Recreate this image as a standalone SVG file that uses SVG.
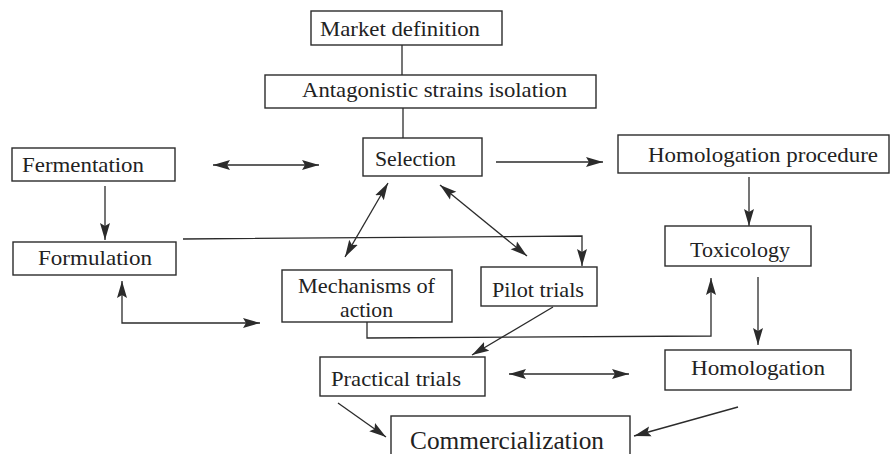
<svg xmlns="http://www.w3.org/2000/svg" width="892" height="454" viewBox="0 0 892 454">
<style>
.box{fill:#fff;stroke:#2b2b2b;stroke-width:1.4}
.t{font-family:"Liberation Serif","DejaVu Serif",serif;font-size:22px;fill:#222}
.big{font-size:25px}
.c{fill:none;stroke:#2b2b2b;stroke-width:1.3}
</style>
<defs>
<marker id="ah" markerUnits="userSpaceOnUse" markerWidth="18" markerHeight="11" refX="17" refY="5.5" orient="auto-start-reverse">
<path d="M0,0.5 L17,5.5 L0,10.5 L3,5.5 z" fill="#2b2b2b"/>
</marker>
</defs>
<rect width="892" height="454" fill="#fff"/>
<g id="connectors">
<line class="c" x1="402" y1="45" x2="402" y2="75"/>
<line class="c" x1="403" y1="108" x2="403" y2="138"/>
<line class="c" x1="213" y1="165" x2="319" y2="165" marker-start="url(#ah)" marker-end="url(#ah)"/>
<line class="c" x1="496" y1="162" x2="603" y2="162" marker-end="url(#ah)"/>
<line class="c" x1="105" y1="186" x2="105" y2="240" marker-end="url(#ah)"/>
<polyline class="c" points="183,239 582,236 582,266" marker-end="url(#ah)"/>
<line class="c" x1="388" y1="183" x2="345" y2="257" marker-start="url(#ah)" marker-end="url(#ah)"/>
<line class="c" x1="440" y1="185" x2="527" y2="256" marker-start="url(#ah)" marker-end="url(#ah)"/>
<line class="c" x1="749" y1="177" x2="749" y2="226" marker-end="url(#ah)"/>
<polyline class="c" points="122,281 122,323 260,323" marker-start="url(#ah)" marker-end="url(#ah)"/>
<polyline class="c" points="367,322 367,338 711,336 711,278" marker-end="url(#ah)"/>
<line class="c" x1="758" y1="277" x2="758" y2="345" marker-end="url(#ah)"/>
<line class="c" x1="553" y1="307" x2="472" y2="355" marker-end="url(#ah)"/>
<line class="c" x1="509" y1="374" x2="629" y2="374" marker-start="url(#ah)" marker-end="url(#ah)"/>
<line class="c" x1="338" y1="403" x2="386" y2="437" marker-end="url(#ah)"/>
<line class="c" x1="738" y1="407" x2="634" y2="436" marker-end="url(#ah)"/>
</g>
<g id="market"><rect class="box" x="311" y="11" width="191" height="34"/><text class="t" x="320" y="36" textLength="160" lengthAdjust="spacingAndGlyphs">Market definition</text></g>
<g id="antagonistic"><rect class="box" x="265" y="75" width="331" height="33"/><text class="t" x="302" y="97" textLength="265" lengthAdjust="spacingAndGlyphs">Antagonistic strains isolation</text></g>
<g id="fermentation"><rect class="box" x="12" y="148" width="163" height="33"/><text class="t" x="22" y="172" textLength="122" lengthAdjust="spacingAndGlyphs">Fermentation</text></g>
<g id="selection"><rect class="box" x="363" y="138" width="119" height="38"/><text class="t" x="375" y="166" textLength="81" lengthAdjust="spacingAndGlyphs">Selection</text></g>
<g id="homproc"><rect class="box" x="618" y="135" width="271" height="38"/><text class="t" x="648" y="162" textLength="230" lengthAdjust="spacingAndGlyphs">Homologation procedure</text></g>
<g id="formulation"><rect class="box" x="13" y="242" width="163" height="33"/><text class="t" x="38" y="265" textLength="114" lengthAdjust="spacingAndGlyphs">Formulation</text></g>
<g id="toxicology"><rect class="box" x="665" y="226" width="146" height="40"/><text class="t" x="690" y="257" textLength="100" lengthAdjust="spacingAndGlyphs">Toxicology</text></g>
<g id="mechanisms"><rect class="box" x="282" y="270" width="170" height="52"/><text class="t" x="298" y="293" textLength="137" lengthAdjust="spacingAndGlyphs">Mechanisms of</text><text class="t" x="340" y="317" textLength="53" lengthAdjust="spacingAndGlyphs">action</text></g>
<g id="pilot"><rect class="box" x="481" y="267" width="116" height="39"/><text class="t" x="492" y="297" textLength="92" lengthAdjust="spacingAndGlyphs">Pilot trials</text></g>
<g id="practical"><rect class="box" x="320" y="357" width="165" height="39"/><text class="t" x="331" y="386" textLength="130" lengthAdjust="spacingAndGlyphs">Practical trials</text></g>
<g id="homologation"><rect class="box" x="665" y="350" width="186" height="40"/><text class="t" x="691" y="375" textLength="134" lengthAdjust="spacingAndGlyphs">Homologation</text></g>
<g id="commercialization"><rect class="box" x="391" y="416" width="239" height="45"/><text class="t big" x="410" y="449" textLength="194" lengthAdjust="spacingAndGlyphs">Commercialization</text></g>
</svg>
